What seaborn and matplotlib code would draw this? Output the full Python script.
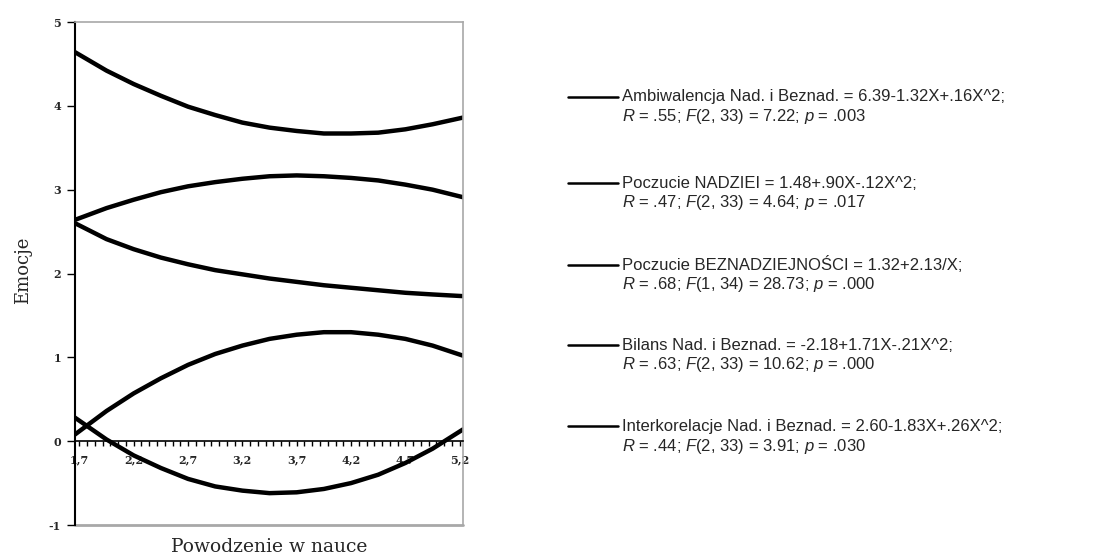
import numpy as np
import pandas as pd
import matplotlib
matplotlib.use("Agg")
import matplotlib.pyplot as plt
from matplotlib.lines import Line2D
import seaborn as sns

sns.set_style("white")
plt.rcParams['font.family'] = ['Liberation Sans', 'DejaVu Sans']
plt.rcParams['mathtext.fontset'] = 'custom'
plt.rcParams['mathtext.rm'] = 'Liberation Sans'
plt.rcParams['mathtext.it'] = 'Liberation Sans:italic'
plt.rcParams['axes.unicode_minus'] = False

# Powodzenie w nauce (x) and the fitted curves
powodzenie = [1.66, 1.95, 2.2, 2.45, 2.7, 2.95, 3.2, 3.45, 3.7, 3.95, 4.2, 4.45, 4.7, 4.95, 5.23]
ambiwalencja = [4.64, 4.42, 4.26, 4.12, 3.99, 3.89, 3.80, 3.74, 3.70, 3.67, 3.67, 3.68, 3.72, 3.78, 3.86]
nadzieja = [2.64, 2.78, 2.88, 2.97, 3.04, 3.09, 3.13, 3.16, 3.17, 3.16, 3.14, 3.11, 3.06, 3.00, 2.91]
beznadziejnosc = [2.60, 2.41, 2.29, 2.19, 2.11, 2.04, 1.99, 1.94, 1.90, 1.86, 1.83, 1.80, 1.77, 1.75, 1.73]
bilans = [0.08, 0.36, 0.57, 0.75, 0.91, 1.04, 1.14, 1.22, 1.27, 1.30, 1.30, 1.27, 1.22, 1.14, 1.02]
interkorelacje = [0.28, 0.02, -0.17, -0.32, -0.45, -0.54, -0.59, -0.62, -0.61, -0.57, -0.50, -0.40, -0.26, -0.09, 0.14]

series_names = ["Ambiwalencja", "Nadzieja", "Beznadziejnosc", "Bilans", "Interkorelacje"]

legend_eq = [
    "Ambiwalencja Nad. i Beznad. = 6.39-1.32X+.16X^2;",
    "Poczucie NADZIEI = 1.48+.90X-.12X^2;",
    "Poczucie BEZNADZIEJNOŚCI = 1.32+2.13/X;",
    "Bilans Nad. i Beznad. = -2.18+1.71X-.21X^2;",
    "Interkorelacje Nad. i Beznad. = 2.60-1.83X+.26X^2;",
]
legend_stats = [
    "$R$ = .55; $F$(2, 33) = 7.22; $p$ = .003",
    "$R$ = .47; $F$(2, 33) = 4.64; $p$ = .017",
    "$R$ = .68; $F$(1, 34) = 28.73; $p$ = .000",
    "$R$ = .63; $F$(2, 33) = 10.62; $p$ = .000",
    "$R$ = .44; $F$(2, 33) = 3.91; $p$ = .030",
]

x_ticks = [1.7, 2.2, 2.7, 3.2, 3.7, 4.2, 4.7, 5.2]
x_tick_labels = ["1,7", "2,2", "2,7", "3,2", "3,7", "4,2", "4,7", "5,2"]
y_ticks = [-1, 0, 1, 2, 3, 4, 5]

df = pd.DataFrame({
    "X": powodzenie,
    "Ambiwalencja": ambiwalencja,
    "Nadzieja": nadzieja,
    "Beznadziejnosc": beznadziejnosc,
    "Bilans": bilans,
    "Interkorelacje": interkorelacje,
})
long = df.melt(id_vars="X", value_vars=series_names, var_name="series", value_name="value")

W, H = 1111, 559
fig = plt.figure(figsize=(W / 100, H / 100), dpi=100)
ax = fig.add_axes([75 / W, 1 - 525 / H, 388 / W, 503 / H])

sns.lineplot(data=long, x="X", y="value", units="series", estimator=None,
             color="black", lw=3.2, sort=False, ax=ax, legend=False)

ax.set_xlim(1.66, 5.23)
ax.set_ylim(-1, 5)
ax.set_xlabel("")
ax.set_ylabel("")

# frame: black left spine and x axis at zero, gray box elsewhere
ax.spines["bottom"].set_position(("data", 0))
ax.spines["bottom"].set_color("black")
ax.spines["bottom"].set_linewidth(1.2)
ax.spines["left"].set_color("black")
ax.spines["left"].set_linewidth(1.5)
for s in ["top", "right"]:
    ax.spines[s].set_color("#a8a8a8")
    ax.spines[s].set_linewidth(1.2)
ax.axhline(-1, color="#a8a8a8", lw=2, clip_on=False)

ax.set_xticks(x_ticks)
ax.set_xticklabels(x_tick_labels)
step = 0.5 / 7
ax.set_xticks(np.arange(1.7, 5.24, step), minor=True)
ax.set_yticks(y_ticks)
ax.tick_params(axis="x", which="both", bottom=True, direction="out", length=3.5,
               width=1, color="black", pad=6, labelsize=8)
ax.tick_params(axis="y", which="major", left=True, direction="out", length=6,
               width=1, color="black", pad=4, labelsize=8)
for lab in ax.get_xticklabels() + ax.get_yticklabels():
    lab.set_family("DejaVu Serif")
    lab.set_fontweight("bold")

fig.text(23 / W, 1 - 270 / H, "Emocje", rotation=90, ha="center", va="center",
         family="DejaVu Serif", fontsize=13)
fig.text(269 / W, 1 - 547 / H, "Powodzenie w nauce", ha="center", va="center",
         family="DejaVu Serif", fontsize=13.5)

# legend drawn beside the plot
y_first = [97, 183, 265, 345, 426]
for yy, eq, st in zip(y_first, legend_eq, legend_stats):
    fig.add_artist(Line2D([568 / W, 618 / W], [1 - yy / H, 1 - yy / H],
                          color="black", lw=1.8, transform=fig.transFigure))
    fig.text(622 / W, 1 - yy / H, eq, ha="left", va="center", fontsize=12)
    fig.text(622 / W, 1 - (yy + 20) / H, st, ha="left", va="center", fontsize=12)

fig.savefig("out.png", dpi=100)
